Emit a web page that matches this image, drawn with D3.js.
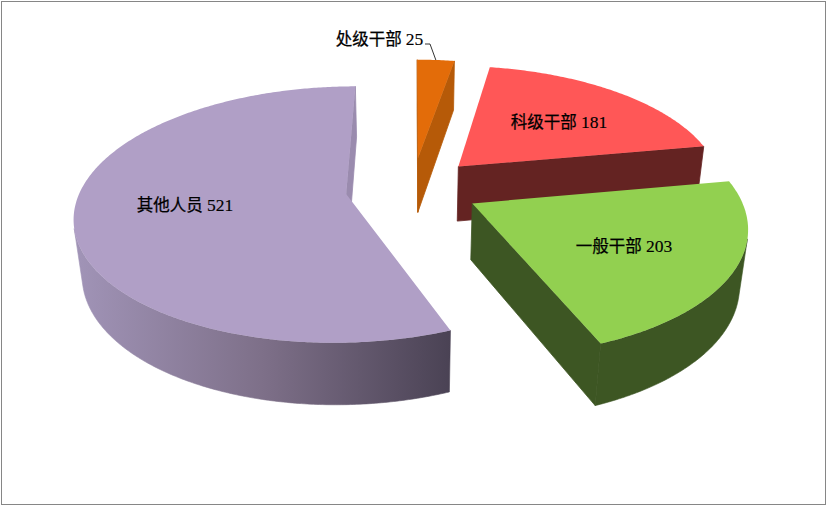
<!DOCTYPE html>
<html><head><meta charset="utf-8">
<script src="https://cdnjs.cloudflare.com/ajax/libs/d3/7.8.5/d3.min.js"></script>
<style>html,body{margin:0;padding:0;background:#fff}svg{display:block}
text{font-family:"Liberation Serif","Noto Sans CJK SC",serif;font-size:16.5px;fill:#000;stroke:#000;stroke-width:.25px}
text .num{font-size:17.5px;stroke-width:.15px}</style>
</head><body><svg id="c" width="827" height="506"></svg>
<script>
const categories = ["处级干部","科级干部","一般干部","其他人员"];
const values = [25,181,203,521];
const topColors = ["#E36C09","#FF5757","#92D050","#B09FC6"];
const wallColors = ["#B65A08","#642322","#3D5623","#9A8BAE"];
const labelAt = [[379.5,39],[559,122],[624,246],[185,205]];

const W=827,H=506, Cx=412.5, Cy=188, R=265, Rs=123, K=0.16, Depth=57, DepthK=0.025, Explode=0.253;
const svg=d3.select("#c");
svg.append("rect").attr("x",1.5).attr("y",1.5).attr("width",824).attr("height",503).attr("fill","#fff").attr("stroke","#868686").attr("stroke-width",1);
const defs=svg.append("defs");
const grad=defs.append("linearGradient").attr("id","wallGrad").attr("gradientUnits","userSpaceOnUse").attr("x1",80).attr("x2",451).attr("y1",0).attr("y2",0);
grad.append("stop").attr("offset",0).attr("stop-color","#A093B6");
grad.append("stop").attr("offset",0.5).attr("stop-color","#7D6F88");
grad.append("stop").attr("offset",1).attr("stop-color","#4A4254");

const arcs=d3.pie().sort(null).startAngle(0).endAngle(2*Math.PI)(values);
function proj(u,v,d){const w=1-K*v+DepthK*d;return [Cx+R*u/w,Cy+(Rs*v+Depth*d)/w];}
function offset(a){const m=(a.startAngle+a.endAngle)/2;return{ou:Explode*Math.sin(m),ov:-Explode*Math.cos(m)};}
function rim(t,d,o){return proj(o.ou+Math.sin(t),o.ov-Math.cos(t),d);}
const line=d3.line();
function samples(t0,t1){const n=Math.ceil((t1-t0)/0.01);return d3.range(0,n+1).map(i=>t0+(t1-t0)*i/n);}
const order=[0,1,3,2];
order.forEach(i=>{
  const a=arcs[i],o=offset(a),g=svg.append("g");
  const ts=samples(a.startAngle,a.endAngle);
  const apexT=proj(o.ou,o.ov,0),apexB=proj(o.ou,o.ov,1);
  // outer wall: only the part that faces the viewer
  const front=d3.pairs(ts).filter(([t0,t1])=>d3.polygonArea([rim(t0,0,o),rim(t1,0,o),rim(t1,1,o),rim(t0,1,o)])>0);
  if(front.length){
    const vis=[front[0][0]].concat(front.map(p=>p[1]));
    const outer=vis.map(t=>rim(t,0,o)).concat(vis.slice().reverse().map(t=>rim(t,1,o)));
    const wallFill=i===3?"url(#wallGrad)":wallColors[i];
    g.append("path").attr("d",line(outer)+"Z").attr("fill",wallFill).attr("stroke",wallFill).attr("stroke-width",.6);
  }
  // radial walls, where they face the viewer
  [[a.startAngle,1],[a.endAngle,-1]].forEach(([t,sign])=>{
    const q=[apexT,rim(t,0,o),rim(t,1,o),apexB];
    if(d3.polygonArea(q)*sign>0) g.append("path").attr("d",line(q)+"Z").attr("fill",wallColors[i]).attr("stroke",wallColors[i]).attr("stroke-width",.8);
  });
  // top
  const top=[apexT].concat(ts.map(t=>rim(t,0,o)));
  g.append("path").attr("d",line(top)+"Z").attr("fill",topColors[i]);
});
// leader for the small slice
const a0=arcs[0],o0=offset(a0),mid=(a0.startAngle+a0.endAngle)/2,lp=rim(mid,0,o0);
svg.append("path").attr("d",line([[425,44],[430,44],lp])).attr("fill","none").attr("stroke","#000").attr("stroke-width",.8);
categories.forEach((c,i)=>{
  const t=svg.append("text").attr("x",labelAt[i][0]).attr("y",labelAt[i][1]+6).attr("text-anchor","middle").text(c+" ");
  t.append("tspan").attr("class","num").text(values[i]);
});
</script></body></html>
